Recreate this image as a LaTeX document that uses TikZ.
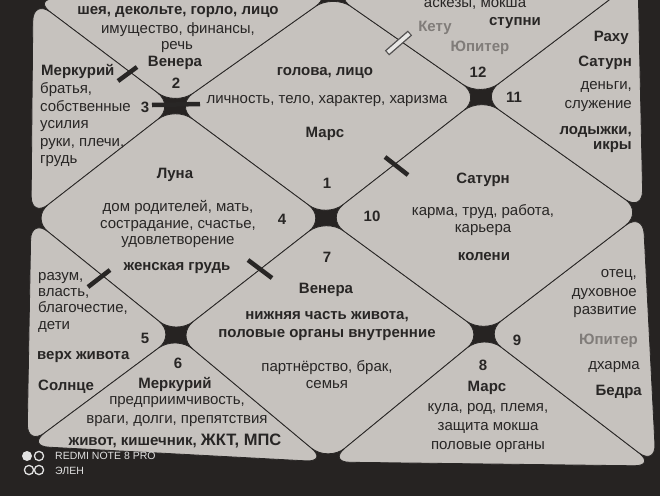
\documentclass[tikz,border=0pt]{standalone}
\usepackage{fontspec}
\setmainfont{Liberation Sans}
\usetikzlibrary{positioning}
\definecolor{paper}{RGB}{198,194,190}
\definecolor{desk}{RGB}{38,35,34}
\definecolor{ink}{RGB}{40,38,37}
\definecolor{pale}{RGB}{128,124,121}
\definecolor{wm}{RGB}{225,225,225}

\begin{document}
\begin{tikzpicture}[x=1pt,y=-1pt,font=\fontsize{15}{18}\selectfont,
  house/.style={draw=ink,line width=0.8pt,fill=paper,rounded corners=22pt},
  lbl/.style={inner sep=0pt,align=center,text=ink},
  bp/.style={lbl,font=\fontsize{15}{18}\selectfont\bfseries},
  pl/.style={lbl,font=\fontsize{15}{18}\selectfont\bfseries},
  faint/.style={text=pale},
  cutbar/.style={line width=4.5pt,draw=ink},
  wmark/.style={inner sep=0pt,text=wm,font=\fontsize{10.5}{12}\selectfont}]
\fill[desk](0,0)rectangle(660,496);
\useasboundingbox(0,0)rectangle(660,496);
\coordinate(tl)at(33,-1);\coordinate(tm)at(333,-6);\coordinate(tr)at(638,-22);
\coordinate(rm)at(643,212);\coordinate(br)at(656,466);\coordinate(bm)at(328,462);
\coordinate(bl)at(27,446);\coordinate(lm)at(31,218);
\coordinate(jtl)at(175,106);\coordinate(jtr)at(481,97);\coordinate(jc)at(326,218);
\coordinate(jbl)at(176,335);\coordinate(jbr)at(484,334);
\draw[house](tm)--(jtl)--(jc)--(jtr)--cycle;
\draw[house](tl)--(tm)--(jtl)--cycle;
\draw[house](tl)--(jtl)--(lm)--cycle;
\draw[house](lm)--(jtl)--(jc)--(jbl)--cycle;
\draw[house](lm)--(jbl)--(bl)--cycle;
\draw[house](bl)--(jbl)--(bm)--cycle;
\draw[house](jc)--(jbl)--(bm)--(jbr)--cycle;
\draw[house](bm)--(jbr)--(br)--cycle;
\draw[house](br)--(jbr)--(rm)--cycle;
\draw[house](rm)--(jtr)--(jc)--(jbr)--cycle;
\draw[house](rm)--(jtr)--(tr)--cycle;
\draw[house](tr)--(jtr)--(tm)--cycle;
\draw[cutbar](118,81)--(137,67);\draw[cutbar](152,105)--(200,104);
\draw[cutbar](385,157)--(408,175);\draw[cutbar](88,287)--(110,270);
\draw[cutbar](248,260)--(272,278);
\draw[line width=6.5pt,ink!80](387,53)--(410,33);
\draw[line width=3.8pt,paper!40!white,shorten <=1.2pt,shorten >=1.2pt](387,53)--(410,33);
\node[bp](h2a)at(178,12){шея, декольте, горло, лицо};
\node[lbl](h2b)at(178,30){имущество, финансы,};
\node[lbl](h2c)at(177,47){речь};
\node[pl](h2p)at(175,63){Венера};
\node[pl](n2)at(176,83){2};
\node[pl,anchor=west](h3p)at(41,71){Меркурий};
\node[lbl,align=left,anchor=west](h3a)at(40,125){братья,\\[-0.5pt]собственные\\[-0.5pt]усилия\\[-0.5pt]руки, плечи,\\[-0.5pt]грудь};
\node[pl](n3)at(145,107){3};
\node[bp](h1a)at(325,73){голова, лицо};
\node[lbl](h1b)at(327,101){личность, тело, характер, харизма};
\node[pl](h1p)at(325,134){Марс};
\node[pl](n1)at(327,183){1};
\node[lbl](h12a)at(475,4){аскезы, мокша};
\node[pl,faint](h12k)at(435,28){Кету};
\node[bp](h12b)at(515,23){ступни};
\node[pl,faint](h12p)at(480,48){Юпитер};
\node[pl](n12)at(478,72){12};
\node[pl,anchor=east](h11r)at(629,38){Раху};
\node[pl,anchor=east](h11s)at(632,63){Сатурн};
\node[lbl,align=right,anchor=east](h11a)at(632,97){деньги,\\[1pt]служение};
\node[bp,align=right,anchor=east](h11b)at(632,140){лодыжки,\\[-3pt]икры};
\node[pl](n11)at(514,97){11};
\node[pl](h4p)at(175,175){Луна};
\node[lbl](h4a)at(178,224){дом родителей, мать,\\[-1.5pt]сострадание, счастье,\\[-1.5pt]удовлетворение};
\node[bp](h4b)at(177,268){женская грудь};
\node[pl](n4)at(282,219){4};
\node[pl](h10p)at(483,180){Сатурн};
\node[pl](n10)at(372,216){10};
\node[lbl](h10a)at(483,220){карма, труд, работа,\\[-1pt]карьера};
\node[bp](h10b)at(484,257){колени};
\node[lbl,align=left,anchor=west](h5a)at(38,302){разум,\\[-1.7pt]власть,\\[-1.7pt]благочестие,\\[-1.7pt]дети};
\node[pl](n5)at(145,338){5};
\node[bp,anchor=west](h5b)at(37,357){верх живота};
\node[pl,anchor=west](h5p)at(38,387){Солнце};
\node[pl](n6)at(178,363){6};
\node[pl](h6p)at(175,384){Меркурий};
\node[lbl](h6a)at(177,412){предприимчивость,\\[1pt]враги, долги, препятствия};
\node[bp](h6b)at(175,441){живот, кишечник, {\fontsize{16.5}{18}\selectfont ЖКТ, МПС}};
\node[pl](n7)at(327,257){7};
\node[pl](h7p)at(326,290){Венера};
\node[bp](h7a)at(327,326){нижняя часть живота,\\половые органы внутренние};
\node[lbl](h7b)at(327,375){партнёрство, брак,\\[-1pt]семья};
\node[pl](n8)at(483,365){8};
\node[pl](h8p)at(487,388){Марс};
\node[lbl](h8a)at(488,418){кула, род, племя,\\[1pt]защита мокша};
\node[lbl](h8b)at(488,447){половые органы};
\node[lbl,align=right,anchor=east](h9a)at(637,294){отец,\\[0.5pt]духовное\\[0.5pt]развитие};
\node[pl](n9)at(517,340){9};
\node[pl,faint,anchor=east](h9p)at(638,341){Юпитер};
\node[lbl,anchor=east](h9b)at(640,367){дхарма};
\node[pl,anchor=east](h9c)at(642,392){Бедра};
\fill[wm](27,456)circle(5);\draw[wm,line width=1.3pt](39,456)circle(4.6);
\draw[wm,line width=1.3pt](29,470)circle(4.6);\draw[wm,line width=1.3pt](39,470)circle(4.6);
\node[wmark,anchor=west](wm1)at(55,456){REDMI NOTE 8 PRO};
\node[wmark,anchor=west](wm2)at(55,471){ЭЛЕН};
\end{tikzpicture}
\end{document}
